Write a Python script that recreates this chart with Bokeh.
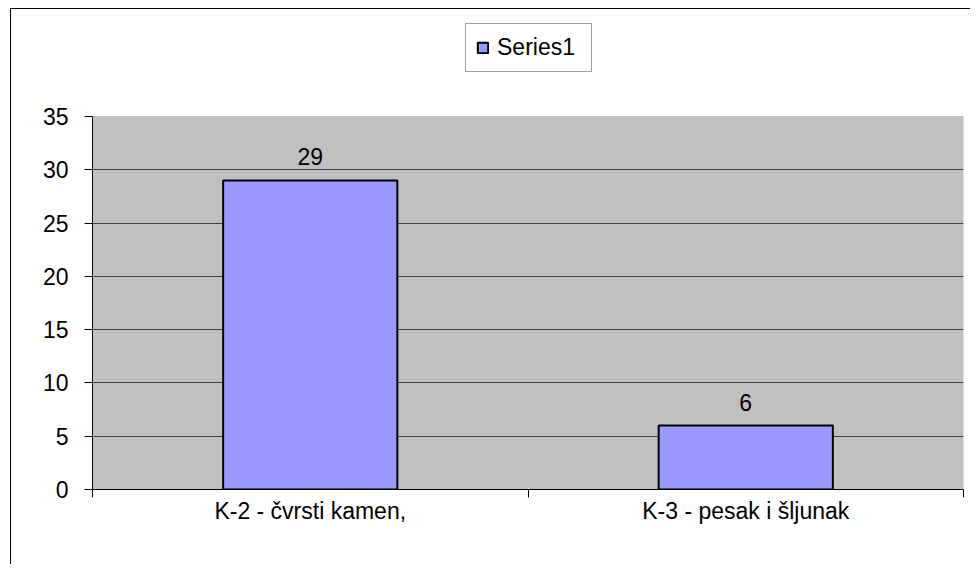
from bokeh.plotting import figure
from bokeh.models import (ColumnDataSource, Range1d, LinearAxis, FixedTicker, Legend, LegendItem,
                          BoxAnnotation)
from bokeh.core.properties import value
from bokeh.embed import file_html
from bokeh.resources import INLINE

# ---- data ----
categories = ["K-2 - čvrsti kamen,", "K-3 - pesak i šljunak"]
series1 = [29, 6]
series_name = "Series1"
y_ticks = [0, 5, 10, 15, 20, 25, 30, 35]
grid_ticks = [5, 10, 15, 20, 25, 30]
y_min, y_max = 0, 35

FONT = "Liberation Sans"
FS = "23px"

# layout (pixels)
FRAME_H = 470          # frame reaches up to the legend area
PLOT_H = 373           # height of the grey plot area (0..35)
y_top = y_max * FRAME_H / PLOT_H

n = len(categories)
xpos = [i + 0.5 for i in range(n)]          # category centres
bounds = [float(i) for i in range(n + 1)]    # category boundaries

src = ColumnDataSource(dict(x=xpos, val=series1, lab=[str(v) for v in series1]))

p = figure(x_range=Range1d(0, n), y_range=Range1d(y_min, y_top),
           width=960, height=556, output_backend="svg", toolbar_location=None,
           min_border_left=81, min_border_top=10, min_border_right=8, min_border_bottom=76,
           x_axis_location=None, y_axis_location=None)
p.margin = (8, 0, 0, 10)
p.styles = {"border-left": "1px solid black", "border-top": "1px solid black"}

p.background_fill_color = "white"
p.border_fill_color = "white"
p.outline_line_color = None

# grey plot area 0..35
area = BoxAnnotation(bottom=y_min, top=y_max, fill_color="#C0C0C0", fill_alpha=1,
                     line_color="#808080", line_width=1, level="image")
p.add_layout(area)

# bars
r = p.vbar(x="x", top="val", width=0.4, source=src, fill_color="#9999FF",
           line_color="black", line_width=2)

# value labels
p.text(x="x", y="val", text="lab", source=src, text_align="center", text_baseline="bottom",
       y_offset=-15, text_font=value(FONT), text_font_size=FS, text_color="black")

# y axis
yaxis = LinearAxis(ticker=FixedTicker(ticks=y_ticks, minor_ticks=[]), bounds=(y_min, y_max))
yaxis.major_tick_out = 8
yaxis.major_tick_in = 0
yaxis.minor_tick_out = 0
yaxis.minor_tick_in = 0
yaxis.axis_line_color = "black"
yaxis.major_tick_line_color = "black"
yaxis.major_label_text_font = FONT
yaxis.major_label_text_font_size = FS
yaxis.major_label_text_color = "black"
yaxis.major_label_standoff = 16
p.add_layout(yaxis, "left")

# x axis: labels at centres, ticks at boundaries (minor ticks)
xaxis = LinearAxis(ticker=FixedTicker(ticks=xpos, minor_ticks=bounds))
xaxis.major_label_overrides = {x: c for x, c in zip(xpos, categories)}
xaxis.major_tick_out = 0
xaxis.major_tick_in = 0
xaxis.minor_tick_out = 8
xaxis.minor_tick_in = 0
xaxis.minor_tick_line_color = "black"
xaxis.axis_line_color = "black"
xaxis.major_label_text_font = FONT
xaxis.major_label_text_font_size = FS
xaxis.major_label_text_color = "black"
xaxis.major_label_standoff = 0
p.add_layout(xaxis, "below")

# grid
p.xgrid.grid_line_color = None
p.ygrid.ticker = FixedTicker(ticks=grid_ticks)
p.ygrid.grid_line_color = "#404040"
p.ygrid.grid_line_width = 1
p.ygrid.level = "underlay"

# legend
legend = Legend(items=[LegendItem(label=series_name, renderers=[r])], location=(373, 417))
legend.border_line_color = "#404040"
legend.border_line_width = 1
legend.background_fill_color = "white"
legend.background_fill_alpha = 1
legend.label_text_font = FONT
legend.label_text_font_size = FS
legend.label_text_color = "black"
legend.glyph_width = 13
legend.glyph_height = 13
legend.label_standoff = 8
legend.label_width = 84
legend.padding = 10
legend.margin = 0
p.add_layout(legend, "center")

open("out.html", "w").write(file_html(p, INLINE))
